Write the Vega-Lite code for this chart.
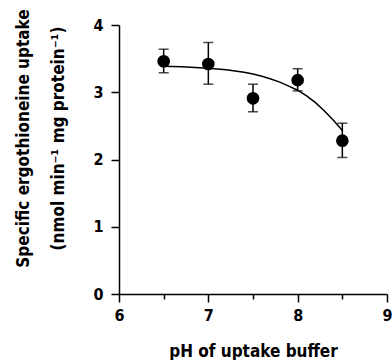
{
  "$schema": "https://vega.github.io/schema/vega-lite/v6.json",
  "width": 268,
  "height": 269,
  "autosize": "none",
  "padding": {"left": 119, "top": 25, "right": 5, "bottom": 66},
  "background": "white",
  "config": {
    "view": {"stroke": null},
    "font": "DejaVu Sans Condensed, Liberation Sans, sans-serif",
    "axis": {"grid": false, "domainColor": "black", "tickColor": "black", "labelColor": "black", "titleColor": "black", "domainWidth": 1.5, "tickWidth": 1.5, "labelFont": "DejaVu Sans Condensed, Liberation Sans, sans-serif", "titleFont": "DejaVu Sans Condensed, Liberation Sans, sans-serif", "labelFontWeight": "bold", "titleFontWeight": "bold", "labelFontSize": 16, "titleFontSize": 17}
  },
  "datasets": {
    "pts": [
      {"ph": 6.5, "mean": 3.46, "lo": 3.29, "hi": 3.64},
      {"ph": 7.0, "mean": 3.42, "lo": 3.12, "hi": 3.74},
      {"ph": 7.5, "mean": 2.91, "lo": 2.71, "hi": 3.12},
      {"ph": 8.0, "mean": 3.18, "lo": 3.02, "hi": 3.35},
      {"ph": 8.5, "mean": 2.28, "lo": 2.03, "hi": 2.54}
    ],
    "fit": [
      {"ph": 6.5, "v": 3.387}, {"ph": 6.6, "v": 3.383}, {"ph": 6.7, "v": 3.379}, {"ph": 6.8, "v": 3.373},
      {"ph": 6.9, "v": 3.366}, {"ph": 7.0, "v": 3.358}, {"ph": 7.1, "v": 3.347}, {"ph": 7.2, "v": 3.334},
      {"ph": 7.3, "v": 3.317}, {"ph": 7.4, "v": 3.296}, {"ph": 7.5, "v": 3.270}, {"ph": 7.6, "v": 3.238},
      {"ph": 7.7, "v": 3.198}, {"ph": 7.8, "v": 3.150}, {"ph": 7.9, "v": 3.091}, {"ph": 8.0, "v": 3.030},
      {"ph": 8.1, "v": 2.945}, {"ph": 8.2, "v": 2.845}, {"ph": 8.3, "v": 2.722}, {"ph": 8.4, "v": 2.583},
      {"ph": 8.5, "v": 2.432}
    ]
  },
  "layer": [
    {
      "data": {"name": "fit"},
      "mark": {"type": "line", "color": "black", "strokeWidth": 1.5},
      "encoding": {
        "x": {"field": "ph", "type": "quantitative", "scale": {"domain": [6, 9], "nice": false},
          "axis": {"values": [6, 6.5, 7, 7.5, 8, 8.5, 9], "labelExpr": "datum.value % 1 === 0 ? format(datum.value, 'd') : ''",
            "tickSize": {"condition": {"test": "datum.value % 1 === 0", "value": 8}, "value": 5},
            "labelPadding": 5, "title": "pH of uptake buffer", "titlePadding": 20, "labelFlush": false}},
        "y": {"field": "v", "type": "quantitative", "scale": {"domain": [0, 4], "nice": false},
          "axis": {"values": [0, 0.5, 1, 1.5, 2, 2.5, 3, 3.5, 4], "labelExpr": "datum.value % 1 === 0 ? format(datum.value, 'd') : ''",
            "tickSize": {"condition": {"test": "datum.value % 1 === 0", "value": 8}, "value": 5},
            "labelPadding": 8, "labelFlush": false,
            "title": ["Specific ergothioneine uptake", "(nmol min⁻¹ mg protein⁻¹)"], "titleY": 113, "titlePadding": 25, "titleLineHeight": 35}}
      }
    },
    {
      "data": {"name": "pts"},
      "mark": {"type": "rule", "color": "black", "strokeWidth": 1.5},
      "encoding": {
        "x": {"field": "ph", "type": "quantitative"},
        "y": {"field": "lo", "type": "quantitative"},
        "y2": {"field": "hi"}
      }
    },
    {
      "data": {"name": "pts"},
      "mark": {"type": "tick", "orient": "horizontal", "color": "black", "size": 10, "thickness": 1.5},
      "encoding": {
        "x": {"field": "ph", "type": "quantitative"},
        "y": {"field": "lo", "type": "quantitative"}
      }
    },
    {
      "data": {"name": "pts"},
      "mark": {"type": "tick", "orient": "horizontal", "color": "black", "size": 10, "thickness": 1.5},
      "encoding": {
        "x": {"field": "ph", "type": "quantitative"},
        "y": {"field": "hi", "type": "quantitative"}
      }
    },
    {
      "data": {"name": "pts"},
      "mark": {"type": "circle", "color": "black", "opacity": 1, "size": 160},
      "encoding": {
        "x": {"field": "ph", "type": "quantitative"},
        "y": {"field": "mean", "type": "quantitative"}
      }
    }
  ]
}
